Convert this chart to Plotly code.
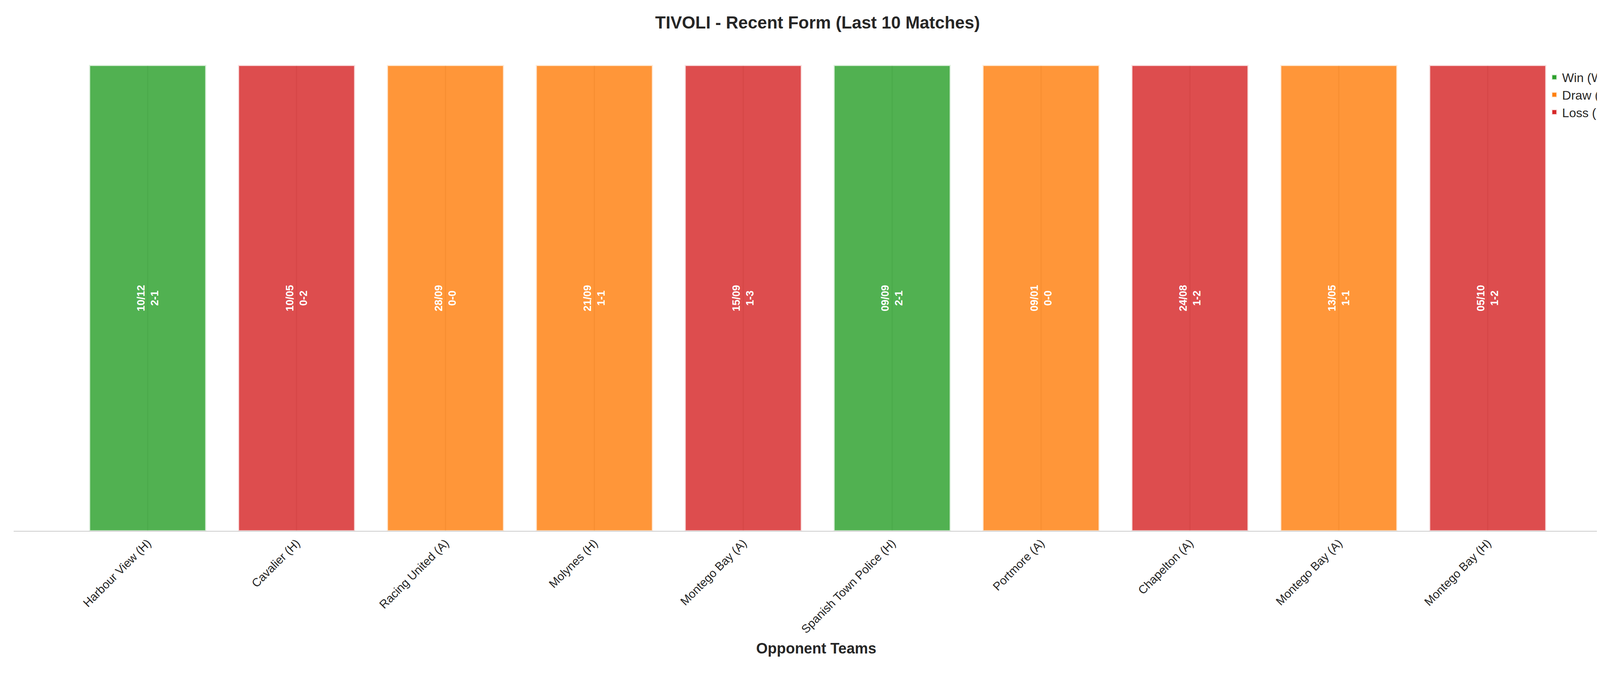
import plotly.graph_objects as go

opponents = ["Harbour View (H)", "Cavalier (H)", "Racing United (A)", "Molynes (H)", "Montego Bay (A)",
             "Spanish Town Police (H)", "Portmore (A)", "Chapelton (A)", "Montego Bay (A)", "Montego Bay (H)"]
dates = ["10/12", "10/05", "28/09", "21/09", "15/09", "09/09", "09/01", "24/08", "13/05", "05/10"]
scores = ["2-1", "0-2", "0-0", "1-1", "1-3", "2-1", "0-0", "1-2", "1-1", "1-2"]
results = ["W", "L", "D", "D", "L", "W", "D", "L", "D", "L"]
heights = [1] * 10

colors = {"W": "#2ca02c", "D": "#ff7f0e", "L": "#d62728"}
names = {"W": "Win (W)", "D": "Draw (D)", "L": "Loss (L)"}
edge = {"W": "rgba(220,240,220,0.9)", "D": "rgba(255,235,215,0.9)", "L": "rgba(250,225,225,0.9)"}

fig = go.Figure()
for r in ["W", "D", "L"]:
    idx = [i for i, v in enumerate(results) if v == r]
    fig.add_trace(go.Bar(
        x=idx, y=[heights[i] for i in idx], width=0.78, name=names[r],
        marker=dict(color=colors[r], opacity=0.82, line=dict(color=edge[r], width=3)),
        text=[f"{dates[i]}<br>{scores[i]}" for i in idx],
        textposition="inside", insidetextanchor="middle", textangle=-90,
        textfont=dict(color="white", size=27, family="Liberation Sans, Arial"),
        texttemplate="<b>%{text}</b>", constraintext="none",
    ))

for i, h in enumerate(heights):
    fig.add_shape(type="line", xref="x", yref="y", x0=i, x1=i, y0=0, y1=h, layer="below",
                  line=dict(color="rgba(150,150,150,0.35)", width=3))

fig.update_layout(
    width=4170, height=1769, plot_bgcolor="white", paper_bgcolor="white",
    font=dict(family="Liberation Sans, Arial", color="#262626"),
    margin=dict(l=27, r=34, t=100, b=418), barmode="overlay",
    title=dict(text="<b>TIVOLI - Recent Form (Last 10 Matches)</b>", x=0.5, xanchor="center",
               y=0.972, yanchor="middle", font=dict(size=44)),
    legend=dict(x=0.955, y=0.95, xanchor="left", yanchor="top", bgcolor="rgba(0,0,0,0)",
                font=dict(size=32), itemsizing="constant"),
)
fig.update_xaxes(range=[-0.9, 9.88], tickmode="array", tickvals=list(range(10)), ticktext=opponents,
                 tickangle=-45, tickfont=dict(size=30), showgrid=False,
                 showline=True, linecolor="#cccccc", linewidth=2, ticks="",
                 title=dict(text="<b>Opponent Teams</b>", font=dict(size=38), standoff=20), zeroline=False)
fig.update_yaxes(range=[0, 1.05], visible=False, showgrid=False)
fig.write_html("out.html")
